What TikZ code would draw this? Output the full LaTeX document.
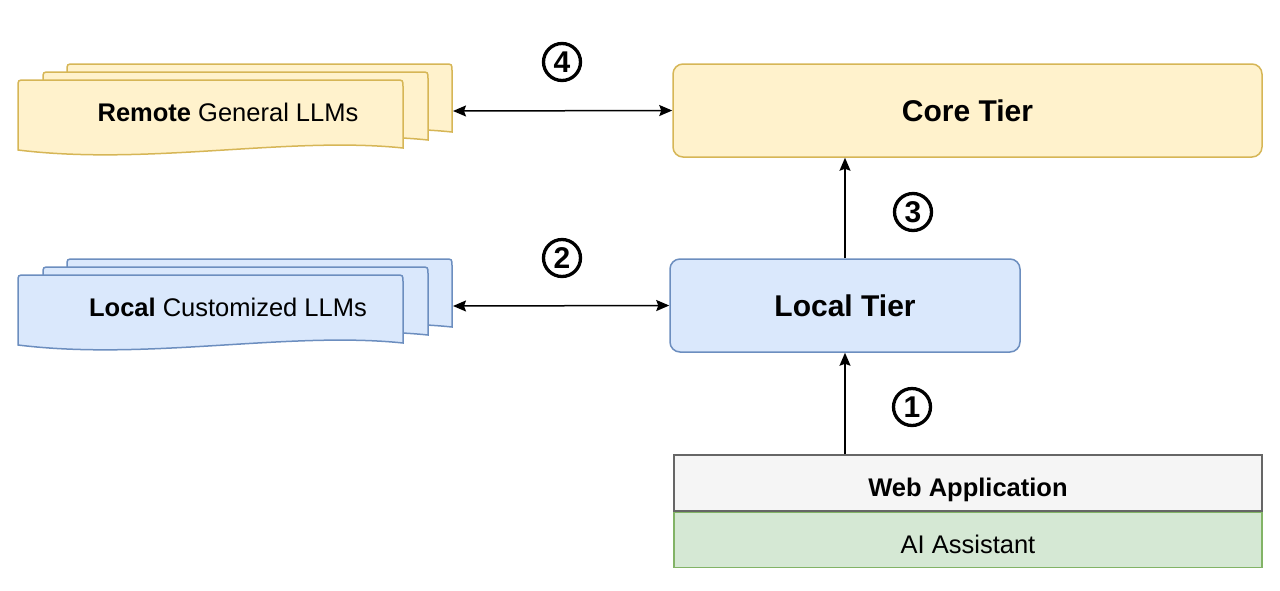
\documentclass[tikz,border=0pt]{standalone}
\usepackage{fontspec}
\setmainfont{Liberation Sans}
\usetikzlibrary{arrows.meta}
\definecolor{yelfill}{HTML}{FFF2CC}\definecolor{yeldraw}{HTML}{D6B656}
\definecolor{blufill}{HTML}{DAE8FC}\definecolor{bludraw}{HTML}{6C8EBF}
\definecolor{gryfill}{HTML}{F5F5F5}\definecolor{grydraw}{HTML}{666666}
\definecolor{grnfill}{HTML}{D5E8D4}\definecolor{grndraw}{HTML}{82B366}
\newcommand\llmpage[3]{\filldraw[#3] (#1,#2+70)--(#1,#2+7) .. controls (#1,#2) .. (#1+7,#2)--(#1+378,#2) .. controls (#1+385,#2) .. (#1+385,#2+7)--(#1+385,#2+68) .. controls (#1+270,#2+56) and (#1+130,#2+86) .. (#1,#2+70)--cycle;}
\begin{document}
\begin{tikzpicture}[x=1pt,y=-1pt,line width=1.5pt,
tier/.style={draw,rounded corners=10,font=\fontsize{30}{34}\selectfont\bfseries},
layer/.style={draw,text height=28pt,text depth=2pt,font=\fontsize{25.5}{28}\selectfont},
num/.style={circle,draw,line width=3.3,minimum size=37,inner sep=0,font=\fontsize{30}{30}\selectfont\bfseries},
arr/.style={-{Stealth[length=13,width=11,inset=2]}},
dbl/.style={{Stealth[length=13,width=11,inset=2]}-{Stealth[length=13,width=11,inset=2]}}]
\useasboundingbox (0,0) rectangle (1280,590);
\foreach \x/\y in {67/64,43/72,18/80}\llmpage{\x}{\y}{fill=yelfill,draw=yeldraw};
\foreach \x/\y in {67/259,43/267,18/275}\llmpage{\x}{\y}{fill=blufill,draw=bludraw};
\node[font=\fontsize{25.5}{28}\selectfont] (remote) at (228,112){\textbf{Remote} General LLMs};
\node[font=\fontsize{25.5}{28}\selectfont] (locllm) at (228,307){\textbf{Local} Customized LLMs};
\coordinate (remoteE) at (453,111);\coordinate (locllmE) at (453,306);
\node[tier,fill=yelfill,draw=yeldraw,minimum width=589,minimum height=93] (core) at (967.5,110.5){Core Tier};
\node[tier,fill=blufill,draw=bludraw,minimum width=350,minimum height=93] (local) at (845,305.5){Local Tier};
\node[layer,fill=gryfill,draw=grydraw,minimum width=588,minimum height=56] (webapp) at (968,483){\bfseries Web Application};
\node[layer,fill=grnfill,draw=grndraw,minimum width=588,minimum height=55,anchor=north] (assist) at (webapp.south){AI Assistant};
\draw[dbl] (remoteE)--(core.west);\draw[dbl] (locllmE)--(local.west);
\draw[arr] (local.south|-webapp.north)--(local.south);\draw[arr] (local.north)--(local.north|-core.south);
\node[num] (n1) at (912,407){1};\node[num] (n2) at (562,258){2};\node[num] (n3) at (913,212){3};\node[num] (n4) at (562,62){4};
\end{tikzpicture}
\end{document}
